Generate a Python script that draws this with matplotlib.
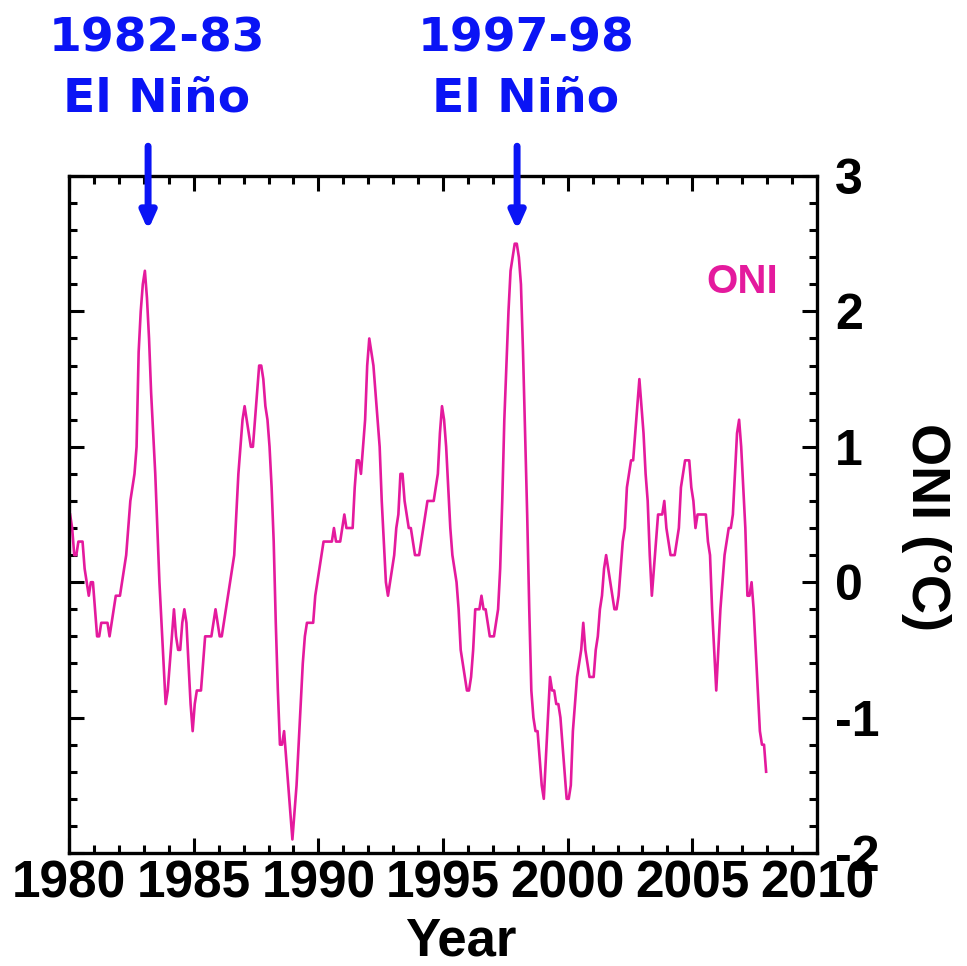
import matplotlib
matplotlib.use("Agg")
import matplotlib.pyplot as plt
from matplotlib.ticker import MultipleLocator
import numpy as np

# Oceanic Nino Index, monthly (3-month running mean), Jan 1980 - Dec 2007
oni_1980s = [
    0.5, 0.4, 0.2, 0.2, 0.3, 0.3, 0.3, 0.1, 0.0, -0.1, 0.0, 0.0,      # 1980
    -0.2, -0.4, -0.4, -0.3, -0.3, -0.3, -0.3, -0.4, -0.3, -0.2, -0.1, -0.1,  # 1981
    -0.1, 0.0, 0.1, 0.2, 0.4, 0.6, 0.7, 0.8, 1.0, 1.7, 2.0, 2.2,      # 1982
    2.3, 2.1, 1.8, 1.4, 1.1, 0.8, 0.4, 0.0, -0.3, -0.6, -0.9, -0.8,   # 1983
    -0.6, -0.4, -0.2, -0.4, -0.5, -0.5, -0.3, -0.2, -0.3, -0.6, -0.9, -1.1,  # 1984
    -0.9, -0.8, -0.8, -0.8, -0.6, -0.4, -0.4, -0.4, -0.4, -0.3, -0.2, -0.3,  # 1985
    -0.4, -0.4, -0.3, -0.2, -0.1, 0.0, 0.1, 0.2, 0.5, 0.8, 1.0, 1.2,  # 1986
    1.3, 1.2, 1.1, 1.0, 1.0, 1.2, 1.4, 1.6, 1.6, 1.5, 1.3, 1.2,       # 1987
    1.0, 0.7, 0.3, -0.3, -0.8, -1.2, -1.2, -1.1, -1.3, -1.5, -1.7, -1.9,  # 1988
    -1.7, -1.5, -1.2, -0.9, -0.6, -0.4, -0.3, -0.3, -0.3, -0.3, -0.1, 0.0,  # 1989
]
oni_1990s = [
    0.1, 0.2, 0.3, 0.3, 0.3, 0.3, 0.3, 0.4, 0.3, 0.3, 0.3, 0.4,       # 1990
    0.5, 0.4, 0.4, 0.4, 0.4, 0.7, 0.9, 0.9, 0.8, 1.0, 1.2, 1.6,       # 1991
    1.8, 1.7, 1.6, 1.4, 1.2, 1.0, 0.6, 0.3, 0.0, -0.1, 0.0, 0.1,      # 1992
    0.2, 0.4, 0.5, 0.8, 0.8, 0.6, 0.5, 0.4, 0.4, 0.3, 0.2, 0.2,       # 1993
    0.2, 0.3, 0.4, 0.5, 0.6, 0.6, 0.6, 0.6, 0.7, 0.8, 1.1, 1.3,       # 1994
    1.2, 1.0, 0.7, 0.4, 0.2, 0.1, 0.0, -0.2, -0.5, -0.6, -0.7, -0.8,  # 1995
    -0.8, -0.7, -0.5, -0.2, -0.2, -0.2, -0.1, -0.2, -0.2, -0.3, -0.4, -0.4,  # 1996
    -0.4, -0.3, -0.2, 0.1, 0.6, 1.2, 1.6, 2.0, 2.3, 2.4, 2.5, 2.5,    # 1997
    2.4, 2.2, 1.7, 1.1, 0.5, -0.2, -0.8, -1.0, -1.1, -1.1, -1.3, -1.5,  # 1998
    -1.6, -1.3, -1.0, -0.7, -0.8, -0.8, -0.9, -0.9, -1.0, -1.2, -1.4, -1.6,  # 1999
]
oni_2000s = [
    -1.6, -1.5, -1.1, -0.9, -0.7, -0.6, -0.5, -0.3, -0.5, -0.6, -0.7, -0.7,  # 2000
    -0.7, -0.5, -0.4, -0.2, -0.1, 0.1, 0.2, 0.1, 0.0, -0.1, -0.2, -0.2,  # 2001
    -0.1, 0.1, 0.3, 0.4, 0.7, 0.8, 0.9, 0.9, 1.1, 1.3, 1.5, 1.3,      # 2002
    1.1, 0.8, 0.6, 0.2, -0.1, 0.1, 0.3, 0.5, 0.5, 0.5, 0.6, 0.4,      # 2003
    0.3, 0.2, 0.2, 0.2, 0.3, 0.4, 0.7, 0.8, 0.9, 0.9, 0.9, 0.7,       # 2004
    0.6, 0.4, 0.5, 0.5, 0.5, 0.5, 0.5, 0.3, 0.2, -0.2, -0.5, -0.8,    # 2005
    -0.5, -0.2, 0.0, 0.2, 0.3, 0.4, 0.4, 0.5, 0.8, 1.1, 1.2, 1.0,     # 2006
    0.7, 0.4, -0.1, -0.1, 0.0, -0.2, -0.5, -0.8, -1.1, -1.2, -1.2, -1.4,  # 2007
]

start_year = 1980
x_ticks = [1980, 1985, 1990, 1995, 2000, 2005, 2010]
y_ticks = [-2, -1, 0, 1, 2, 3]

events = ["1982-83\nEl Niño", "1997-98\nEl Niño"]
event_years = [1983.17, 1997.97]

line_color = "#e41a9d"
blue = "#0a14f5"

oni = np.array(oni_1980s + oni_1990s + oni_2000s)
t = start_year + np.arange(len(oni)) / 12.0 + 1 / 24.0

plt.rcParams["axes.unicode_minus"] = False
plt.rcParams["font.family"] = ["Liberation Sans", "DejaVu Sans"]

fig = plt.figure(figsize=(9.67, 9.66), dpi=100)
ax = fig.add_axes([0.0714, 0.117, 0.7735, 0.7008])

ax.plot(t, oni, color=line_color, lw=1.9)

ax.set_xlim(1980, 2010)
ax.set_ylim(-2, 3)
ax.set_xticks(x_ticks)
ax.set_yticks(y_ticks)
ax.xaxis.set_minor_locator(MultipleLocator(1))
ax.yaxis.set_minor_locator(MultipleLocator(0.2))

ax.tick_params(which="both", direction="in", top=True, right=True,
               left=True, bottom=True, labelleft=False, labelright=True,
               width=2.2)
ax.tick_params(which="major", length=11)
ax.tick_params(which="minor", length=6)
ax.tick_params(axis="x", which="major", labelsize=37, pad=5)
ax.tick_params(axis="y", which="major", labelsize=36, pad=13)
for lab in ax.get_xticklabels() + ax.get_yticklabels():
    lab.set_fontweight("bold")
for sp in ax.spines.values():
    sp.set_linewidth(2.4)

ax.set_xlabel("Year", fontsize=38, fontweight="bold")
ax.xaxis.set_label_coords(0.524, -0.094)
ax.yaxis.set_label_position("right")
ax.set_ylabel("ONI (°C)", fontsize=39, fontweight="bold", rotation=270,
              va="center")
ax.yaxis.set_label_coords(1.146, 0.482)

ax.text(2007.0, 2.22, "ONI", color=line_color, fontsize=29,
        fontweight="bold", ha="center", va="center")

# El Nino arrows and labels above the frame
for label, yr in zip(events, event_years):
    ax.annotate("", xy=(yr, 2.6), xytext=(yr, 3.22),
                arrowprops=dict(arrowstyle="-|>,head_width=0.45,head_length=1.0",
                                color=blue, lw=5, shrinkA=0, shrinkB=0),
                annotation_clip=False)
    ax.text(yr + 0.35, 3.79, label, color=blue, fontsize=34,
            fontweight="bold", family="DejaVu Sans", ha="center",
            va="center", linespacing=1.42, clip_on=False)

fig.savefig("out.png", dpi=100)
